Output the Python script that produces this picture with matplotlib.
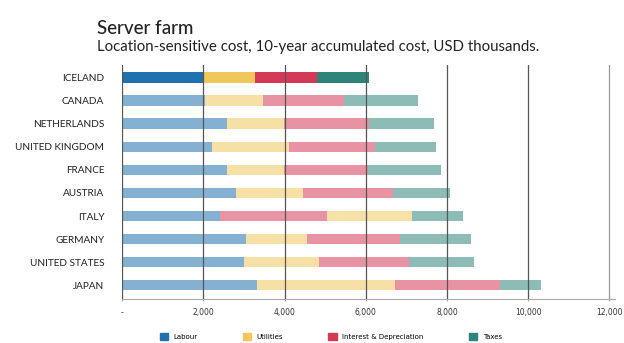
import matplotlib.pyplot as plt
from matplotlib.patches import Patch

# 10-year accumulated cost per location, USD thousands
countries = ["ICELAND", "CANADA", "NETHERLANDS", "UNITED KINGDOM", "FRANCE",
             "AUSTRIA", "ITALY", "GERMANY", "UNITED STATES", "JAPAN"]
labour = [2000, 2030, 2570, 2220, 2590, 2810, 2400, 3060, 2990, 3330]
utilities = [1280, 1450, 1410, 1900, 1390, 1650, 2100, 1480, 1850, 3390]
interest = [1510, 1980, 2100, 2100, 2070, 2200, 2640, 2300, 2220, 2590]
taxes = [1290, 1830, 1600, 1510, 1800, 1410, 1260, 1750, 1600, 1010]

series = ["Labour", "Utilities", "Interest & Depreciation", "Taxes"]
values = [labour, utilities, interest, taxes]
colors = ["#1f72ad", "#f1c75b", "#d43a58", "#2f847a"]

# Italy's bar stacks interest before utilities in the original
stack_order = {"ITALY": [0, 2, 1, 3]}

fig = plt.figure(figsize=(6.24, 3.43), dpi=100)
ax = fig.add_axes([0.196, 0.128, 0.79, 0.683])

for i, c in enumerate(countries):
    left = 0
    highlight = (c == "ICELAND")
    for s in stack_order.get(c, [0, 1, 2, 3]):
        v = values[s][i]
        ax.barh(i, v, left=left, height=0.45, color=colors[s],
                alpha=1.0 if highlight else 0.55, linewidth=0, zorder=2)
        left += v

ax.set_ylim(len(countries) - 0.4, -0.55)
ax.set_xlim(0, 12150)

for side in ["top", "right", "left"]:
    ax.spines[side].set_visible(False)
ax.spines["bottom"].set_color("#aaaaaa")

ax.set_yticks(range(len(countries)))
ax.set_yticklabels(countries, fontsize=7.2, color="#222222", family="Lato")
ticks = [0, 2000, 4000, 6000, 8000, 10000, 12000]
ax.set_xticks(ticks)
ax.set_xticklabels(["-"] + [f"{t:,}" for t in ticks[1:]], fontsize=5.5, color="#333333")
ax.tick_params(axis="y", length=0, pad=13)
ax.tick_params(axis="x", length=3, color="#aaaaaa", pad=5, direction="inout")

for t in ticks:
    ax.axvline(t, color="#555555" if t < 12000 else "#999999", lw=0.9, zorder=3)

handles = [Patch(color=col, label=lab) for col, lab in zip(colors, series)]
fig.legend(handles=handles, loc="lower center", bbox_to_anchor=(0.53, -0.01), ncol=4,
           frameon=False, fontsize=5, handlelength=1.2, handleheight=1.2,
           columnspacing=6.5)

fig.text(0.155, 0.9, "Server farm", fontsize=13.5, color="#222222", family="Lato",
         weight="medium")
fig.text(0.155, 0.85, "Location-sensitive cost, 10-year accumulated cost, USD thousands.",
         fontsize=10.8, color="#222222", family="Lato")

fig.savefig("out.png", dpi=100)
